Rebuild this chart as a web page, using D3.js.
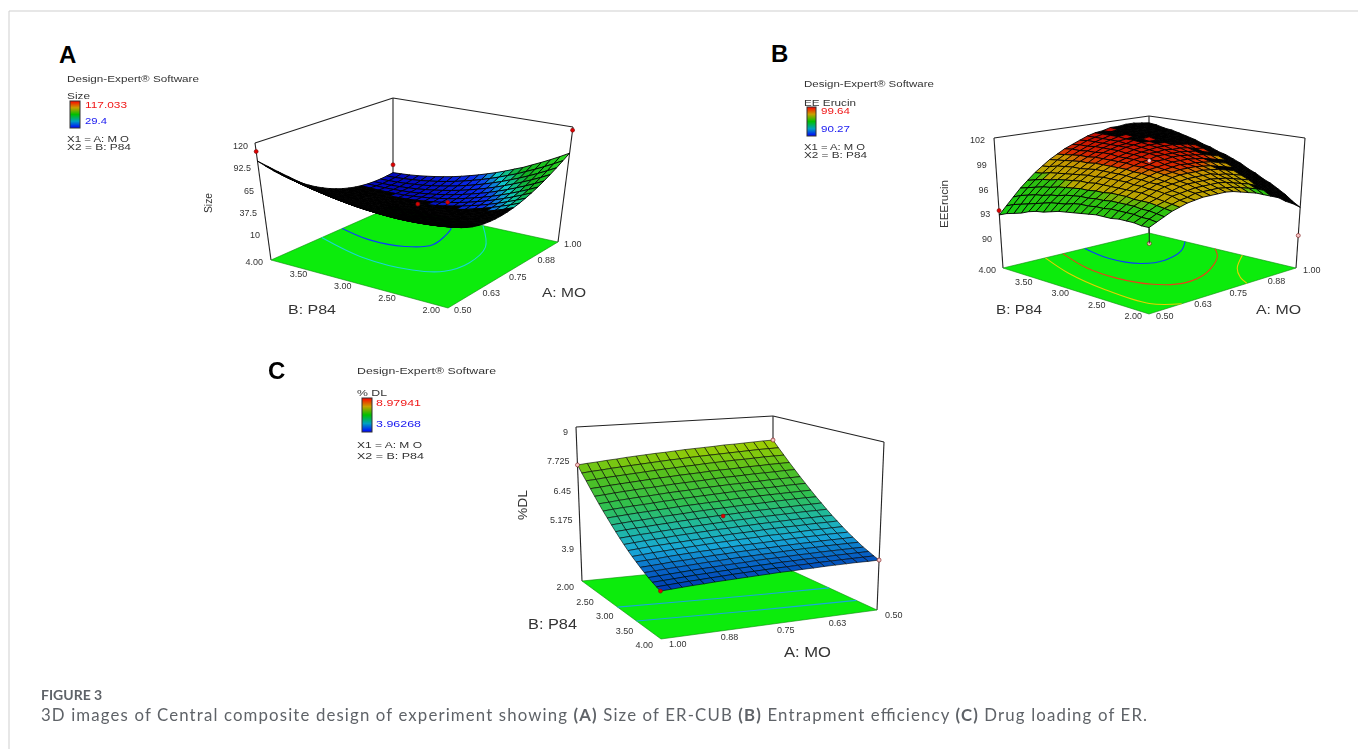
<!DOCTYPE html>
<html>
<head>
<meta charset="utf-8">
<title>Figure 3</title>
<script src="https://d3js.org/d3.v7.min.js"></script>
<style>
  body { margin: 0; background: #fff; }
  svg { display: block; }
  text { font-family: "Liberation Sans", Arial, sans-serif; }
  .panel { filter: blur(0.35px); }
</style>
</head>
<body>
<div id="chart"></div>
<script>
// grid positions of the two factors, every surface uses the same ones
const moSteps = [0.5,0.525,0.55,0.575,0.6,0.625,0.65,0.675,0.7,0.725,0.75,0.775,0.8,0.825,0.85,0.875,0.9,0.925,0.95,0.975,1];
const p84Steps = [2,2.1,2.2,2.3,2.4,2.5,2.6,2.7,2.8,2.9,3,3.1,3.2,3.3,3.4,3.5,3.6,3.7,3.8,3.9,4];

const moTicks = [0.5, 0.63, 0.75, 0.88, 1];
const p84Ticks = [2, 2.5, 3, 3.5, 4];
const sizeTicks = ["10", "37.5", "65", "92.5", "120"];
const eeTicks = ["90", "93", "96", "99", "102"];
const dlTicks = ["3.9", "5.175", "6.45", "7.725", "9"];

// rows go P84 2.00 -> 4.00, columns MO 0.50 -> 1.00
const sizeGrid = [
[75,72.2,69.8,67.8,66.2,65,64.2,63.8,63.8,64.2,65,66.2,67.8,69.8,72.2,75,78.2,81.8,85.8,90.2,95],
[74.3,71.3,68.7,66.5,64.7,63.3,62.3,61.7,61.5,61.7,62.3,63.3,64.7,66.5,68.7,71.3,74.3,77.7,81.5,85.7,90.3],
[73.8,70.6,67.8,65.5,63.5,61.9,60.7,59.9,59.5,59.5,59.9,60.7,62,63.5,65.5,67.9,70.7,73.9,77.5,81.5,85.9],
[73.6,70.2,67.2,64.6,62.4,60.6,59.2,58.2,57.7,57.5,57.7,58.3,59.3,60.7,62.5,64.7,67.3,70.3,73.7,77.5,81.7],
[73.6,70,66.8,64,61.6,59.6,58,56.8,56.1,55.7,55.7,56.1,56.9,58.1,59.7,61.7,64.1,66.9,70.1,73.8,77.8],
[73.8,70,66.6,63.6,61,58.8,57,55.6,54.6,54.1,53.9,54.1,54.7,55.7,57.1,58.9,61.2,63.8,66.8,70,73.8],
[74.2,70.2,66.6,63.4,60.6,58.2,56.2,54.7,53.5,52.7,52.3,52.3,52.7,53.6,54.8,56.4,58.4,60.8,63.6,66.9,70.5],
[74.8,70.6,66.8,63.4,60.5,57.9,55.7,53.9,52.5,51.6,51,50.8,51,51.6,52.6,54.1,55.9,58.1,60.7,63.7,67.1],
[75.6,71.3,67.3,63.7,60.5,57.7,55.4,53.4,51.8,50.6,49.8,49.5,49.5,49.9,50.7,52,53.6,55.6,58,60.8,64],
[76.7,72.1,68,64.2,60.8,57.8,55.2,53,51.3,49.9,49,48.4,48.2,48.4,49,50,51.5,53.3,55.5,58.1,61.2],
[78,73.2,68.9,64.9,61.3,58.1,55.4,53,51,49.4,48.3,47.5,47.1,47.1,47.6,48.4,49.6,51.2,53.3,55.7,58.5],
[79.5,74.5,70,65.8,62,58.6,55.7,53.1,50.9,49.2,47.8,46.8,46.2,46.1,46.3,46.9,48,49.4,51.2,53.4,56.1],
[81.2,76.1,71.3,66.9,63,59.4,56.2,53.4,51.1,49.1,47.5,46.4,45.6,45.2,45.3,45.7,46.5,47.8,49.4,51.4,53.8],
[83.2,77.8,72.9,68.3,64.1,60.4,57,54,51.5,49.3,47.5,46.1,45.2,44.6,44.4,44.7,45.3,46.4,47.8,49.6,51.8],
[85.4,79.8,74.6,69.9,65.5,61.5,58,54.8,52,49.7,47.7,46.2,45,44.2,43.8,43.9,44.3,45.2,46.4,48,50.1],
[87.8,82,76.6,71.7,67.1,63,59.2,55.8,52.9,50.3,48.1,46.4,45,44,43.5,43.3,43.6,44.2,45.2,46.7,48.5],
[90.4,84.4,78.8,73.7,69,64.6,60.6,57,53.9,51.1,48.8,46.8,45.2,44,43.3,43,43,43.4,44.3,45.5,47.2],
[93.2,87,81.3,75.9,71,66.4,62.3,58.5,55.1,52.2,49.6,47.5,45.7,44.3,43.4,42.8,42.7,42.9,43.6,44.6,46],
[96.2,89.9,83.9,78.4,73.2,68.5,64.1,60.2,56.6,53.4,50.7,48.3,46.4,44.8,43.7,42.9,42.6,42.6,43.1,44,45.1],
[99.5,93,86.8,81.1,75.7,70.7,66.2,62,58.3,54.9,52,49.4,47.3,45.5,44.2,43.2,42.7,42.5,42.8,43.4,44.5],
[103,96.3,89.9,84,78.4,73.3,68.5,64.2,60.2,56.7,53.5,50.8,48.4,46.5,44.9,43.8,43,42.7,42.7,43.2,44]
];

const eeGrid = [
[97.1,97.4,97.7,98,98.2,98.4,98.5,98.6,98.6,98.6,98.6,98.5,98.3,98.1,97.9,97.6,97.3,97,96.5,96.1,95.6],
[97.1,97.5,97.8,98.1,98.3,98.5,98.6,98.8,98.8,98.8,98.8,98.7,98.6,98.4,98.2,98,97.7,97.3,96.9,96.5,96],
[97.2,97.5,97.9,98.2,98.4,98.7,98.8,98.9,99,99,99,99,98.9,98.7,98.5,98.3,98,97.7,97.3,96.9,96.5],
[97.2,97.6,97.9,98.3,98.5,98.8,98.9,99.1,99.2,99.2,99.2,99.2,99.1,99,98.8,98.6,98.4,98,97.7,97.3,96.9],
[97.2,97.6,98,98.3,98.6,98.9,99.1,99.2,99.3,99.4,99.4,99.4,99.4,99.2,99.1,98.9,98.7,98.4,98,97.7,97.3],
[97.1,97.6,98,98.3,98.7,98.9,99.2,99.3,99.5,99.6,99.6,99.6,99.6,99.5,99.4,99.2,99,98.7,98.4,98,97.6],
[97.1,97.6,98,98.4,98.7,99,99.2,99.4,99.6,99.7,99.8,99.8,99.8,99.7,99.6,99.4,99.2,99,98.7,98.4,98],
[97.1,97.5,98,98.4,98.7,99,99.3,99.5,99.7,99.8,99.9,100,99.9,99.9,99.8,99.7,99.5,99.3,99,98.7,98.3],
[97,97.5,97.9,98.4,98.7,99.1,99.3,99.6,99.8,99.9,100,100.1,100.1,100.1,100,99.9,99.7,99.5,99.3,99,98.7],
[96.9,97.4,97.9,98.3,98.7,99.1,99.4,99.6,99.9,100,100.2,100.2,100.3,100.3,100.2,100.1,100,99.8,99.6,99.3,99],
[96.8,97.4,97.8,98.3,98.7,99.1,99.4,99.7,99.9,100.1,100.2,100.4,100.4,100.4,100.4,100.3,100.2,100,99.8,99.6,99.3],
[96.7,97.3,97.8,98.2,98.7,99.1,99.4,99.7,100,100.2,100.3,100.5,100.5,100.6,100.5,100.5,100.4,100.2,100.1,99.8,99.5],
[96.6,97.1,97.7,98.2,98.6,99,99.4,99.7,100,100.2,100.4,100.5,100.6,100.7,100.7,100.7,100.6,100.5,100.3,100.1,99.8],
[96.4,97,97.6,98.1,98.6,99,99.4,99.7,100,100.2,100.4,100.6,100.7,100.8,100.8,100.8,100.7,100.6,100.5,100.3,100],
[96.2,96.9,97.4,98,98.5,98.9,99.3,99.7,100,100.3,100.5,100.7,100.8,100.9,100.9,100.9,100.9,100.8,100.7,100.5,100.3],
[96.1,96.7,97.3,97.9,98.4,98.8,99.2,99.6,100,100.3,100.5,100.7,100.8,101,101,101.1,101,101,100.8,100.7,100.5],
[95.9,96.5,97.1,97.7,98.3,98.7,99.2,99.6,99.9,100.2,100.5,100.7,100.9,101,101.1,101.1,101.1,101.1,101,100.9,100.7],
[95.6,96.3,97,97.6,98.1,98.6,99.1,99.5,99.9,100.2,100.5,100.7,100.9,101.1,101.2,101.2,101.2,101.2,101.1,101,100.9],
[95.4,96.1,96.8,97.4,98,98.5,99,99.4,99.8,100.1,100.4,100.7,100.9,101.1,101.2,101.3,101.3,101.3,101.3,101.2,101],
[95.2,95.9,96.6,97.2,97.8,98.3,98.8,99.3,99.7,100.1,100.4,100.7,100.9,101.1,101.2,101.3,101.4,101.4,101.4,101.3,101.2],
[94.9,95.6,96.3,97,97.6,98.2,98.7,99.2,99.6,100,100.3,100.6,100.9,101.1,101.2,101.4,101.4,101.5,101.5,101.4,101.3]
];

const dlGrid = [
[7.95,7.94,7.92,7.90,7.88,7.87,7.84,7.82,7.80,7.78,7.75,7.72,7.70,7.67,7.64,7.61,7.57,7.54,7.50,7.47,7.43],
[7.68,7.67,7.66,7.64,7.62,7.60,7.58,7.56,7.54,7.52,7.49,7.47,7.44,7.41,7.38,7.35,7.32,7.29,7.25,7.22,7.18],
[7.43,7.42,7.41,7.39,7.37,7.36,7.34,7.32,7.30,7.27,7.25,7.22,7.20,7.17,7.14,7.11,7.08,7.05,7.02,6.98,6.95],
[7.18,7.17,7.16,7.14,7.13,7.11,7.09,7.08,7.06,7.03,7.01,6.99,6.96,6.94,6.91,6.88,6.85,6.82,6.79,6.75,6.72],
[6.95,6.94,6.92,6.91,6.90,6.88,6.86,6.85,6.83,6.80,6.78,6.76,6.74,6.71,6.68,6.66,6.63,6.60,6.57,6.53,6.50],
[6.72,6.71,6.70,6.69,6.67,6.66,6.64,6.63,6.61,6.59,6.57,6.54,6.52,6.50,6.47,6.44,6.42,6.39,6.36,6.32,6.29],
[6.51,6.50,6.49,6.47,6.46,6.45,6.43,6.42,6.40,6.38,6.36,6.34,6.32,6.29,6.27,6.24,6.21,6.19,6.16,6.13,6.09],
[6.30,6.29,6.28,6.27,6.26,6.25,6.23,6.22,6.20,6.18,6.16,6.14,6.12,6.10,6.07,6.05,6.02,6.00,5.97,5.94,5.91],
[6.10,6.10,6.09,6.08,6.07,6.05,6.04,6.03,6.01,5.99,5.98,5.96,5.94,5.91,5.89,5.87,5.84,5.81,5.79,5.76,5.73],
[5.92,5.91,5.90,5.89,5.88,5.87,5.86,5.85,5.83,5.81,5.80,5.78,5.76,5.74,5.72,5.69,5.67,5.64,5.62,5.59,5.56],
[5.74,5.73,5.73,5.72,5.71,5.70,5.69,5.68,5.66,5.65,5.63,5.61,5.59,5.57,5.55,5.53,5.51,5.48,5.46,5.43,5.40],
[5.57,5.57,5.56,5.56,5.55,5.54,5.53,5.52,5.50,5.49,5.47,5.46,5.44,5.42,5.40,5.38,5.35,5.33,5.31,5.28,5.25],
[5.42,5.41,5.41,5.40,5.39,5.39,5.38,5.37,5.35,5.34,5.33,5.31,5.29,5.27,5.25,5.23,5.21,5.19,5.17,5.14,5.11],
[5.27,5.27,5.26,5.26,5.25,5.24,5.23,5.23,5.21,5.20,5.19,5.17,5.16,5.14,5.12,5.10,5.08,5.06,5.04,5.01,4.98],
[5.13,5.13,5.13,5.12,5.12,5.11,5.10,5.09,5.08,5.07,5.06,5.05,5.03,5.01,5.00,4.98,4.96,4.94,4.91,4.89,4.87],
[5.01,5.00,5.00,5.00,4.99,4.99,4.98,4.97,4.96,4.95,4.94,4.93,4.91,4.90,4.88,4.86,4.84,4.83,4.80,4.78,4.76],
[4.89,4.89,4.89,4.89,4.88,4.88,4.87,4.86,4.85,4.84,4.83,4.82,4.81,4.79,4.78,4.76,4.74,4.72,4.70,4.68,4.66],
[4.78,4.78,4.78,4.78,4.78,4.77,4.77,4.76,4.75,4.75,4.74,4.72,4.71,4.70,4.68,4.67,4.65,4.63,4.61,4.59,4.57],
[4.69,4.69,4.69,4.69,4.68,4.68,4.68,4.67,4.67,4.66,4.65,4.64,4.63,4.61,4.60,4.58,4.57,4.55,4.53,4.51,4.49],
[4.60,4.60,4.60,4.60,4.60,4.60,4.59,4.59,4.58,4.58,4.57,4.56,4.55,4.54,4.52,4.51,4.49,4.48,4.46,4.44,4.42],
[4.52,4.52,4.53,4.53,4.53,4.53,4.52,4.52,4.51,4.51,4.50,4.49,4.48,4.47,4.46,4.45,4.43,4.42,4.40,4.38,4.36]
];

// floor contours as [MO, P84]
const sizeContourBlue = [[0.792,4],[0.764,3.61],[0.775,3.22],[0.823,3.02],[0.93,3.11],[0.95,3.15]];
const sizeContourCyan = [[0.708,4],[0.653,3.38],[0.653,2.8],[0.691,2.53],[0.77,2.45],[0.88,2.55],[1,2.91]];
const eeContourBlue = [[0.78,4],[0.758,3.59],[0.781,3.24],[0.846,3.16],[0.932,3.29],[1,3.51]];
const eeContourRed = [[0.705,4],[0.658,3.49],[0.648,3.04],[0.674,2.65],[0.736,2.46],[0.833,2.55],[0.947,2.86],[1,3.1]];
const eeContourYellowLeft = [[0.645,4],[0.592,3.47],[0.56,2.84],[0.558,2.23],[0.611,2]];
const eeContourYellowRight = [[0.833,2],[0.86,2.2],[0.91,2.44],[1,2.73]];
const dlContourUpper = [[1,2.9],[0.75,3],[0.5,3.08]];
const dlContourLower = [[1,3.38],[0.75,3.5],[0.5,3.6]];

// design points as [MO, P84, response]
const sizePoints = [[0.5,4,112],[1,4,52],[1,2,117],[0.75,3,56],[0.8,2.8,56]];
const eePoints = [[0.5,4,95.3],[0.75,3,100.1],[0.75,3,92.5],[1,2,93]];
const dlPoints = [[1,2,7.43],[0.5,2,7.95],[0.5,4,4.52],[1,4,4.36],[0.75,3,5.87]];

const width = 1358, height = 749;

const svg = d3.select("#chart").append("svg")
    .attr("width", width)
    .attr("height", height);

const defs = svg.append("defs");
const legendStops = ["#ff0000", "#c8a000", "#00c000", "#00a0c0", "#0000ff"];
const legendGrad = defs.append("linearGradient")
    .attr("id", "legendGrad")
    .attr("x1", 0).attr("y1", 0).attr("x2", 0).attr("y2", 1);
legendStops.forEach((c, i) => {
    legendGrad.append("stop").attr("offset", i / (legendStops.length - 1)).attr("stop-color", c);
});

// page frame of the article figure
svg.append("line").attr("x1", 9).attr("x2", width).attr("y1", 11).attr("y2", 11)
    .attr("stroke", "#cfcfcf");
svg.append("line").attr("x1", 9).attr("x2", 9).attr("y1", 11).attr("y2", height)
    .attr("stroke", "#cfcfcf");

function addText(g, str, x, y, opts = {}) {
    const t = g.append("text")
        .attr("x", x)
        .attr("y", y)
        .attr("font-size", opts.size || 9)
        .attr("fill", opts.fill || "#333")
        .attr("text-anchor", opts.anchor || "start")
        .text(str);
    if (opts.weight) t.attr("font-weight", opts.weight);
    if (opts.len) t.attr("textLength", opts.len).attr("lengthAdjust", "spacingAndGlyphs");
    return t;
}

function drawPanel(p) {
    const g = svg.append("g").attr("class", "panel");

    const uScale = d3.scaleLinear().domain([0.5, 1]).range([0, 1]);
    const vScale = d3.scaleLinear().domain([2, 4]).range([0, 1]);
    const tScale = d3.scaleLinear().domain(p.zDomain).range([0, 1]);

    // bilinear on floor and roof of the box, straight line between them
    function onPlane(c, u, v) {
        const x = d3.interpolateNumber(
            d3.interpolateNumber(c[0][0], c[1][0])(u),
            d3.interpolateNumber(c[2][0], c[3][0])(u))(v);
        const y = d3.interpolateNumber(
            d3.interpolateNumber(c[0][1], c[1][1])(u),
            d3.interpolateNumber(c[2][1], c[3][1])(u))(v);
        return [x, y];
    }
    function project(a, b, z) {
        const f = onPlane(p.floor, uScale(a), vScale(b));
        const r = onPlane(p.roof, uScale(a), vScale(b));
        const t = tScale(z);
        return [f[0] + (r[0] - f[0]) * t, f[1] + (r[1] - f[1]) * t];
    }
    const zLow = p.zDomain[0];

    // back walls
    const edge = d3.line();
    p.roofPath.forEach(pair => {
        g.append("path")
            .attr("d", edge(pair.map(i => p.roof[i])))
            .attr("fill", "none").attr("stroke", "#222").attr("stroke-width", 1.1);
    });
    p.posts.forEach(i => {
        g.append("path")
            .attr("d", edge([p.roof[i], p.floor[i]]))
            .attr("fill", "none").attr("stroke", "#222").attr("stroke-width", 1.1);
    });

    // floor
    g.append("path")
        .attr("d", edge([p.floor[0], p.floor[1], p.floor[3], p.floor[2]]) + "Z")
        .attr("fill", "#0cec0c").attr("stroke", "#0a8a0a").attr("stroke-width", 0.6);

    const contourLine = d3.line().curve(d3.curveCatmullRom);
    p.contours.forEach(c => {
        g.append("path")
            .attr("d", contourLine(c.pts.map(d => project(d[0], d[1], zLow))))
            .attr("fill", "none").attr("stroke", c.color).attr("stroke-width", 1.1);
    });

    // surface cells, far ones first
    const colorScale = d3.scaleLinear().domain(p.colorDomain).range(p.colorRange).clamp(true);
    const cells = [];
    for (let k = 0; k < p84Steps.length - 1; k++) {
        for (let j = 0; j < moSteps.length - 1; j++) {
            const corners = [[j, k], [j + 1, k], [j + 1, k + 1], [j, k + 1]];
            const poly = corners.map(c => project(moSteps[c[0]], p84Steps[c[1]], p.grid[c[1]][c[0]]));
            const zMean = d3.mean(corners, c => p.grid[c[1]][c[0]]);
            const depth = onPlane(p.floor, uScale(moSteps[j]), vScale(p84Steps[k]))[1];
            cells.push({ poly, zMean, depth, area: Math.abs(d3.polygonArea(poly)) });
        }
    }
    cells.sort((a, b) => d3.ascending(a.depth, b.depth));

    const cellLine = d3.line();
    g.append("g").selectAll("path")
        .data(cells)
        .enter().append("path")
        .attr("d", d => cellLine(d.poly) + "Z")
        .attr("fill", d => d.area < p.crowdedArea ? "#000" : colorScale(d.zMean))
        .attr("stroke", "#000")
        .attr("stroke-width", p.meshWidth);

    // design points
    p.points.forEach((d, i) => {
        const pos = project(d[0], d[1], d[2]);
        g.append("circle")
            .attr("cx", pos[0]).attr("cy", pos[1]).attr("r", 2)
            .attr("fill", p.pointFill[i]).attr("stroke", "#7a1010").attr("stroke-width", 0.6);
    });
    (p.stems || []).forEach(s => {
        g.append("path")
            .attr("d", edge([project(s[0], s[1], s[2]), project(s[0], s[1], s[3])]))
            .attr("stroke", "#222").attr("stroke-width", 1);
    });

    // response ticks do not sit on the post in the source picture, they have their own column
    const zTickScale = d3.scaleLinear().domain(p.zTickDomain);
    const zy = zTickScale.copy().range(p.zTickY);
    const zx = zTickScale.copy().range(p.zTickX);
    p.zTicks.forEach(s => {
        addText(g, s, zx(+s), zy(+s), { anchor: "end" });
    });

    p84Ticks.forEach(b => {
        const pos = project(p.p84EdgeMo, b, zLow);
        addText(g, d3.format(".2f")(b), pos[0] + p.p84Off[0], pos[1] + p.p84Off[1], { anchor: "end" });
    });
    moTicks.forEach(a => {
        const pos = project(a, p.moEdgeP84, zLow);
        addText(g, d3.format(".2f")(a), pos[0] + p.moOff[0], pos[1] + p.moOff[1]);
    });

    addText(g, "B: P84", p.p84Title[0], p.p84Title[1], { size: p.titleSize, len: p.p84Title[2] });
    addText(g, "A: MO", p.moTitle[0], p.moTitle[1], { size: p.titleSize, len: p.moTitle[2] });
    addText(g, p.zTitle, 0, 0, { anchor: "middle", size: p.zTitleAt[3], len: p.zTitleAt[2] })
        .attr("transform", `translate(${p.zTitleAt[0]},${p.zTitleAt[1]}) rotate(-90)`);

    // legend block
    const L = p.legend;
    addText(svg, p.letter, L.letter[0], L.letter[1], { size: 24, weight: "bold", fill: "#000" });
    addText(g, "Design-Expert® Software", L.x, L.soft[0], { size: 8.5, len: L.soft[1] });
    addText(g, p.response, L.x, L.resp[0], { size: 8.5, len: L.resp[1] });
    g.append("rect")
        .attr("x", L.bar[0]).attr("y", L.bar[1]).attr("width", L.bar[2]).attr("height", L.bar[3])
        .attr("fill", "url(#legendGrad)").attr("stroke", "#333").attr("stroke-width", 1);
    addText(g, p.high, L.valX, L.hiY, { size: 9, fill: "#f01818", len: L.valLen[0] });
    addText(g, p.low, L.valX, L.loY, { size: 9, fill: "#1818f0", len: L.valLen[1] });
    addText(g, "X1 = A: M O", L.x, L.x1[0], { size: 8.5, len: L.x1[1] });
    addText(g, "X2 = B: P84", L.x, L.x2[0], { size: 8.5, len: L.x2[1] });
}

drawPanel({
    letter: "A", response: "Size", high: "117.033", low: "29.4", zTitle: "Size",
    grid: sizeGrid, zDomain: [10, 120], zTicks: sizeTicks, zTickDomain: [10, 120],
    points: sizePoints, pointFill: ["#e00000", "#e00000", "#e00000", "#e00000", "#e00000"],
    contours: [{ pts: sizeContourBlue, color: "#0a3cff" }, { pts: sizeContourCyan, color: "#19d6d6" }],
    colorDomain: [40, 57, 64, 72, 95],
    colorRange: ["#0000b0", "#0a30f0", "#10c8c8", "#10b020", "#30e020"],
    crowdedArea: 30, meshWidth: 0.9,
    // corner order: (MO .5,P84 2) (MO 1,P84 2) (MO .5,P84 4) (MO 1,P84 4)
    floor: [[448, 308], [558, 242], [271, 260], [393, 206]],
    roof: [[452, 170], [573, 127], [255, 143], [393, 98]],
    roofPath: [[2, 3], [3, 1]], posts: [2, 3, 1],
    zTickY: [238, 149], zTickX: [260, 248],
    p84EdgeMo: 0.5, p84Off: [-8, 5], moEdgeP84: 2, moOff: [6, 5],
    p84Title: [288, 314, 48], moTitle: [542, 297, 44], titleSize: 12,
    zTitleAt: [212, 203, 20, 10],
    legend: {
        letter: [59, 63], x: 67, soft: [82, 132], resp: [99, 23], bar: [70, 101, 10, 27],
        valX: 85, hiY: 108, loY: 124, valLen: [42, 22], x1: [142, 62], x2: [150, 64]
    }
});

drawPanel({
    letter: "B", response: "EE Erucin", high: "99.64", low: "90.27", zTitle: "EEErucin",
    grid: eeGrid, zDomain: [90, 102], zTicks: eeTicks, zTickDomain: [90, 102],
    points: eePoints, pointFill: ["#e00000", "#f8c8c8", "#f8c8c8", "#f8c8c8"],
    stems: [[0.75, 3, 92.5, 93.9]],
    contours: [
        { pts: eeContourBlue, color: "#0a3cff" }, { pts: eeContourRed, color: "#e8401a" },
        { pts: eeContourYellowLeft, color: "#e8d000" }, { pts: eeContourYellowRight, color: "#e8d000" }
    ],
    colorDomain: [94.9, 98.05, 98.3, 99.55, 99.9, 101.5],
    colorRange: ["#10d010", "#30c010", "#b8a800", "#c89400", "#d82800", "#b80000"],
    crowdedArea: 28, meshWidth: 0.9,
    floor: [[1149, 314], [1296, 268], [1003, 268], [1149, 233]],
    roof: [[1149, 168], [1305, 138], [994, 138], [1149, 116]],
    roofPath: [[2, 3], [3, 1]], posts: [2, 3, 1],
    zTickY: [242, 143], zTickX: [992, 985],
    p84EdgeMo: 0.5, p84Off: [-7, 5], moEdgeP84: 2, moOff: [7, 5],
    p84Title: [996, 314, 46], moTitle: [1256, 314, 45], titleSize: 12,
    zTitleAt: [948, 204, 48, 11],
    legend: {
        letter: [771, 62], x: 804, soft: [87, 130], resp: [106, 52], bar: [807, 107, 9, 29],
        valX: 821, hiY: 114, loY: 132, valLen: [29, 29], x1: [150, 61], x2: [158, 63]
    }
});

drawPanel({
    letter: "C", response: "% DL", high: "8.97941", low: "3.96268", zTitle: "%DL",
    grid: dlGrid, zDomain: [2.625, 9], zTicks: dlTicks, zTickDomain: [3.9, 9],
    points: dlPoints, pointFill: ["#f8c8c8", "#f8c8c8", "#f8c8c8", "#e00000", "#e00000"],
    contours: [{ pts: dlContourUpper, color: "#1aa8d8" }, { pts: dlContourLower, color: "#1aa8d8" }],
    colorDomain: [4.36, 4.7, 5.1, 5.6, 6.2, 7, 7.95],
    colorRange: ["#0038b0", "#0868c8", "#18a8d8", "#20b8a0", "#30c050", "#50c020", "#a8d000"],
    crowdedArea: 0, meshWidth: 0.6,
    floor: [[773, 562], [582, 581], [877, 610], [661, 639]],
    roof: [[773, 416], [576, 427], [884, 442], [659, 463]],
    roofPath: [[1, 0], [0, 2]], posts: [1, 0, 2],
    zTickY: [552, 435], zTickX: [574, 568],
    p84EdgeMo: 1, p84Off: [-8, 9], moEdgeP84: 4, moOff: [8, 8],
    p84Title: [528, 629, 49], moTitle: [784, 657, 47], titleSize: 14,
    zTitleAt: [527, 505, 30, 13],
    legend: {
        letter: [268, 379], x: 357, soft: [374, 139], resp: [396, 30], bar: [362, 398, 10, 34],
        valX: 376, hiY: 406, loY: 427, valLen: [45, 45], x1: [448, 65], x2: [459, 67]
    }
});

// caption
addText(svg, "FIGURE 3", 41, 700, { size: 14, weight: "bold", fill: "#5f6368" })
    .style("font-family", "Lato");
const caption = svg.append("text")
    .attr("x", 41).attr("y", 721)
    .attr("font-size", 16.8)
    .attr("fill", "#5f6368")
    .attr("textLength", 1106)
    .style("font-family", "Lato");
const captionParts = [
    ["3D images of Central composite design of experiment showing ", false], ["(A)", true],
    [" Size of ER-CUB ", false], ["(B)", true], [" Entrapment efficiency ", false],
    ["(C)", true], [" Drug loading of ER.", false]
];
captionParts.forEach(part => {
    caption.append("tspan").attr("font-weight", part[1] ? "bold" : "normal").text(part[0]);
});
</script>
</body>
</html>
